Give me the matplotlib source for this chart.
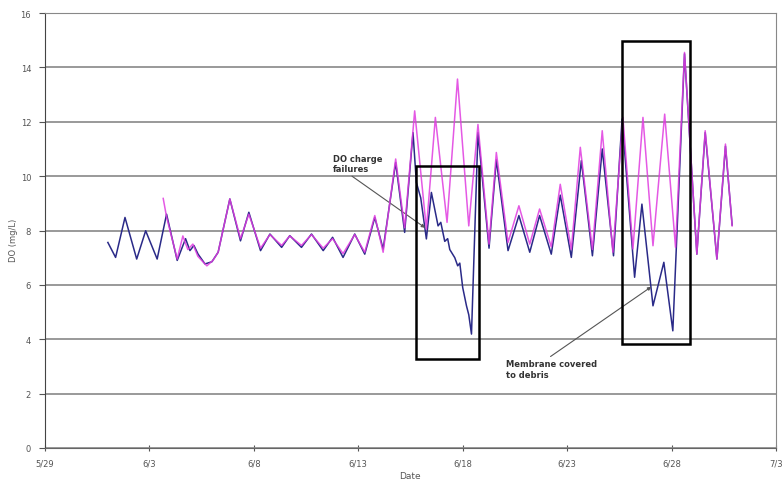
import matplotlib.pyplot as plt
from matplotlib.patches import Rectangle

# days after 5/29 and DO readings (mg/L)
blue_days = [3.01, 3.38, 3.83, 4.39, 4.82, 5.37, 5.82, 6.33, 6.73, 6.94, 7.13, 7.33, 7.66, 7.99,
             8.29, 8.85, 9.36, 9.76, 10.32, 10.77, 11.33, 11.72, 12.28, 12.76, 13.32, 13.77,
             14.27, 14.83, 15.31, 15.79, 16.19, 16.79, 17.22, 17.62, 17.78, 17.99, 18.26, 18.50,
             18.82, 18.95, 19.14, 19.28, 19.38, 19.62, 19.76, 19.86, 20.0, 20.18, 20.29, 20.42,
             20.73, 21.26, 21.61, 22.17, 22.69, 23.21, 23.68, 24.24, 24.67, 25.20, 25.68, 26.21,
             26.68, 27.22, 27.63, 28.23, 28.58, 29.11, 29.63, 30.06, 30.62, 31.21, 31.61, 32.17,
             32.58, 32.9]
blue_do = [7.56, 7.01, 8.48, 6.95, 7.99, 6.95, 8.6, 6.9, 7.7, 7.26, 7.45, 7.13, 6.77, 6.85,
           7.2, 9.16, 7.62, 8.67, 7.26, 7.87, 7.38, 7.81, 7.38, 7.87, 7.26, 7.75,
           7.01, 7.87, 7.13, 8.48, 7.32, 10.5, 7.93, 11.6, 9.77, 9.2, 7.69, 9.4,
           8.17, 8.3, 7.6, 7.7, 7.3, 7.0, 6.7, 6.8, 5.9, 5.23, 4.9, 4.19,
           11.6, 7.35, 10.6, 7.26, 8.55, 7.2, 8.55, 7.13, 9.3, 7.01, 10.57, 7.07,
           11.0, 7.07, 12.1, 6.28, 8.97, 5.23, 6.83, 4.31, 14.5, 7.13, 11.6, 6.95,
           11.1, 8.2]

pink_days = [5.66, 5.82, 6.33, 6.6, 6.84, 7.08, 7.32, 7.56, 7.75, 8.04, 8.29, 8.85, 9.36, 9.76,
             10.32, 10.77, 11.33, 11.72, 12.28, 12.76, 13.32, 13.77, 14.27, 14.83, 15.31, 15.79,
             16.19, 16.79, 17.22, 17.70, 18.26, 18.69, 19.25, 19.75, 20.29, 20.73, 21.26, 21.61,
             22.17, 22.69, 23.21, 23.68, 24.24, 24.67, 25.20, 25.63, 26.21, 26.68, 27.19, 27.67,
             28.15, 28.63, 29.11, 29.67, 30.19, 30.62, 31.21, 31.61, 32.17, 32.58, 32.9]
pink_do = [9.18, 8.5, 6.95, 7.8, 7.3, 7.5, 7.05, 6.85, 6.7, 6.9, 7.2, 9.16, 7.7, 8.6,
           7.35, 7.85, 7.45, 7.8, 7.45, 7.85, 7.35, 7.7, 7.15, 7.85, 7.2, 8.55,
           7.2, 10.63, 8.1, 12.4, 8.05, 12.16, 8.3, 13.57, 8.17, 11.9, 7.5, 10.87,
           7.56, 8.91, 7.5, 8.79, 7.4, 9.7, 7.3, 11.06, 7.3, 11.67, 7.2, 12.16,
           7.32, 12.16, 7.44, 12.28, 7.38, 14.55, 7.13, 11.67, 6.95, 11.18, 8.17]

tick_days = [0, 5, 10, 15, 20, 25, 30, 35]
tick_labels = ['5/29', '6/3', '6/8', '6/13', '6/18', '6/23', '6/28', '7/3']

fig = plt.figure(figsize=(7.82, 4.85), dpi=100)
ax = fig.add_axes([45 / 782, 36 / 485, 731 / 782, 435 / 485])

ax.plot(blue_days, blue_do, color='#2a2a88', lw=1.1, zorder=3)
ax.plot(pink_days, pink_do, color='#e03ce0', lw=1.1, alpha=0.85, zorder=4)

# boxes around the problem periods
ax.add_patch(Rectangle((17.75, 3.27), 3.05, 7.11, fill=False, ec='black', lw=1.8, zorder=5))
ax.add_patch(Rectangle((27.65, 3.82), 3.21, 11.15, fill=False, ec='black', lw=1.8, zorder=5))

ax.annotate('DO charge\nfailures', xy=(18.2, 8.1), xytext=(13.8, 10.1),
            fontsize=6, fontweight='bold', color='#333333', va='bottom', ha='left',
            arrowprops=dict(arrowstyle='-|>', color='#555555', lw=0.8, mutation_scale=5,
                            shrinkA=0, shrinkB=0, relpos=(0.3, 0)))
ax.annotate('Membrane covered\nto debris', xy=(29.03, 5.93), xytext=(22.05, 2.55),
            fontsize=6, fontweight='bold', color='#333333', va='bottom', ha='left',
            arrowprops=dict(arrowstyle='-|>', color='#555555', lw=0.8, mutation_scale=5,
                            shrinkA=0, shrinkB=0, relpos=(0.45, 1)))

ax.set_xlim(0, 35)
ax.set_ylim(0, 16)
ax.set_yticks(range(0, 17, 2))
ax.set_xticks(tick_days)
ax.set_xticklabels(tick_labels)
ax.yaxis.grid(True, color='#888888', lw=1.2)
ax.set_axisbelow(True)
ax.tick_params(axis='y', direction='out', length=4, labelsize=6, colors='#555555', pad=6)
ax.tick_params(axis='x', direction='inout', length=5, labelsize=6, colors='#555555', pad=5)
for side in ['top', 'right']:
    ax.spines[side].set_color('#888888')
ax.spines['left'].set_color('#444444')
ax.spines['bottom'].set_color('#666666')

fig.text(13 / 782, 0.505, 'DO (mg/L)', rotation=90, ha='center', va='center',
         fontsize=6, color='#555555')
fig.text(410 / 782, 1 - 477 / 485, 'Date', ha='center', va='center', fontsize=6.5,
         color='#555555')

fig.savefig('out.png', dpi=100)
